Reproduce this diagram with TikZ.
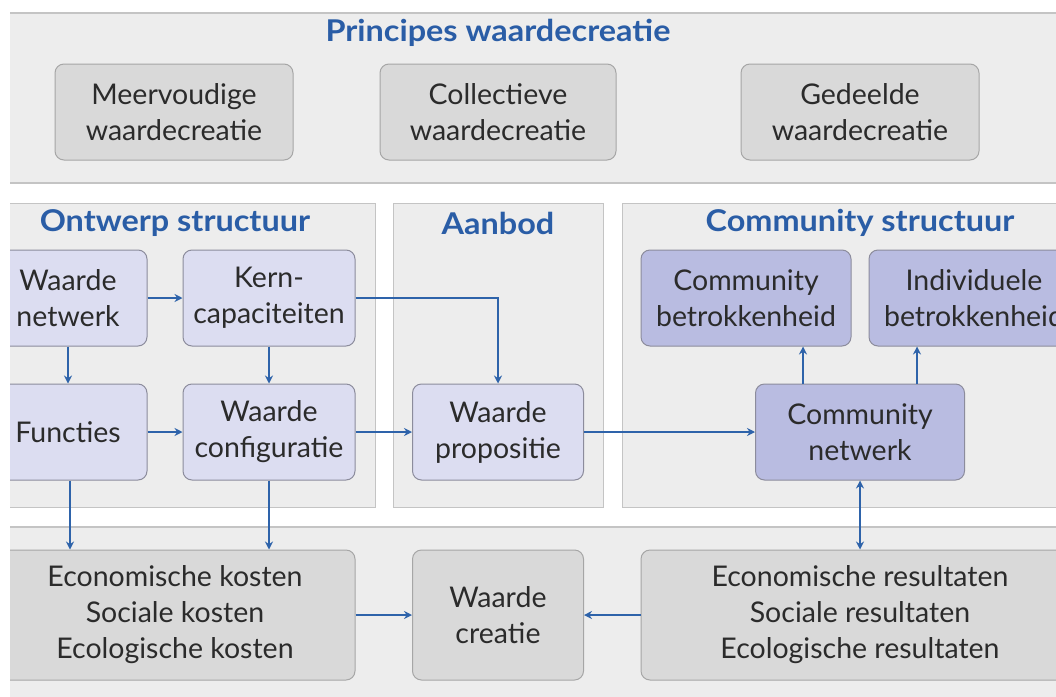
\documentclass[tikz,border=0pt]{standalone}
\usepackage{fontspec}
\setmainfont{Lato}
\newfontfamily\titlefont[FakeStretch=1.08]{Lato}
\usetikzlibrary{positioning,arrows.meta}
\definecolor{panelfill}{HTML}{EDEDED}
\definecolor{paneldraw}{HTML}{C4C4C4}
\definecolor{grayfill}{HTML}{D9D9D9}
\definecolor{graydraw}{HTML}{A6A6A6}
\definecolor{lavfill}{HTML}{DCDDF1}
\definecolor{darkfill}{HTML}{B9BCE1}
\definecolor{lavdraw}{HTML}{8C8C9C}
\definecolor{titleblue}{HTML}{2A5DA6}
\definecolor{arrowblue}{HTML}{2E63AA}
\definecolor{txt}{HTML}{2B2B2B}
\tikzset{
  panel/.style={fill=panelfill,draw=paneldraw,line width=1pt},
  boxtext/.style={align=center,text=txt,font=\fontsize{28.5}{36}\selectfont,inner sep=0pt},
  graybox/.style={boxtext,rounded corners=9pt,fill=grayfill,draw=graydraw,line width=1pt,minimum height=96pt},
  lavbox/.style={boxtext,rounded corners=9pt,fill=lavfill,draw=lavdraw,line width=1pt,minimum height=96pt,minimum width=172pt},
  darkbox/.style={lavbox,fill=darkfill},
  paneltitle/.style={text=titleblue,font=\titlefont\fontsize{30}{34}\selectfont\bfseries,inner sep=0pt},
  arr/.style={draw=arrowblue,line width=1.6pt,-{Stealth[length=8pt,width=8pt]}},
}
\begin{document}
\begin{tikzpicture}[x=1pt,y=-1pt,node distance=134pt and 201pt,on grid]
\useasboundingbox[fill=white] (0,0) rectangle (1056,696);
\begin{scope}
\clip (10,0) rectangle (1056,696);
% panels
\fill[panelfill] (0,13) rectangle (1070,183);
\draw[paneldraw,line width=1.2pt] (0,13) -- (1070,13) (0,183) -- (1070,183);
\draw[panel] (0,203) rectangle (375,507);
\draw[panel] (393,203) rectangle (603,507);
\draw[panel] (622,203) rectangle (1070,507);
\fill[panelfill] (0,527) rectangle (1070,700);
\draw[paneldraw,line width=1.2pt] (0,527) -- (1070,527);

% titles
\node[paneltitle] (t_princ) at (498,33) {Principes waardecreatie};
\node[paneltitle] (t_ontw) at (175,223) {Ontwerp structuur};
\node[paneltitle] (t_aanb) at (498,223) {Aanbod};
\node[paneltitle] (t_comm) at (860,223) {Community structuur};

% principes
\node[graybox,minimum width=238pt] (meerv) at (174,112) {Meervoudige\\waardecreatie};
\node[graybox,minimum width=236pt] (collec) at (498,112) {Collectieve\\waardecreatie};
\node[graybox,minimum width=238pt] (gedeeld) at (860,112) {Gedeelde\\waardecreatie};

% ontwerp structuur en aanbod
\node[lavbox,minimum width=158pt] (wnet) at (68,298) {Waarde\\netwerk};
\node[lavbox] (kern) [right=201pt of wnet] {Kern-\\capaciteiten};
\node[lavbox,minimum width=158pt] (funct) [below=of wnet] {Functies};
\node[lavbox] (config) [below=of kern] {Waarde\\configuratie};
\node[lavbox,minimum width=171pt] (prop) at (498,432) {Waarde\\propositie};

% community structuur
\node[darkbox,minimum width=209pt] (cnet) at (860,432) {Community\\netwerk};
\node[darkbox,minimum width=210pt] (cbetr) at (746,298) {Community\\betrokkenheid};
\node[darkbox,minimum width=210pt] (ibetr) at (974,298) {Individuele\\betrokkenheid};

% resultaten
\node[graybox,minimum width=360pt,minimum height=130pt] (kosten) at (175,615) {Economische kosten\\Sociale kosten\\Ecologische kosten};
\node[graybox,minimum width=171pt,minimum height=130pt] (creatie) at (498,615) {Waarde\\creatie};
\node[graybox,minimum width=438pt,minimum height=130pt] (result) at (860,615) {Economische resultaten\\Sociale resultaten\\Ecologische resultaten};

% verbindingen
\draw[arr] (wnet) -- (kern);
\draw[arr] (wnet) -- (funct);
\draw[arr] (kern) -- (config);
\draw[arr] (funct) -- (config);
\draw[arr] (config) -- (prop);
\draw[arr] (kern.east) -| (prop.north);
\draw[arr] (prop) -- (cnet);
\draw[arr] ([xshift=-57pt]cnet.north) -- ([xshift=-57pt]cnet.north |- cbetr.south);
\draw[arr] ([xshift=57pt]cnet.north) -- ([xshift=57pt]cnet.north |- ibetr.south);
\draw[arr,{Stealth[length=8pt,width=8pt]}-{Stealth[length=8pt,width=8pt]}] (cnet) -- (result);
\draw[arr] ([xshift=2pt]funct.south) -- ([xshift=2pt]funct.south |- kosten.north);
\draw[arr] (config.south) -- (config.south |- kosten.north);
\draw[arr] (kosten) -- (creatie);
\draw[arr] (result) -- (creatie);
\end{scope}
\end{tikzpicture}
\end{document}
